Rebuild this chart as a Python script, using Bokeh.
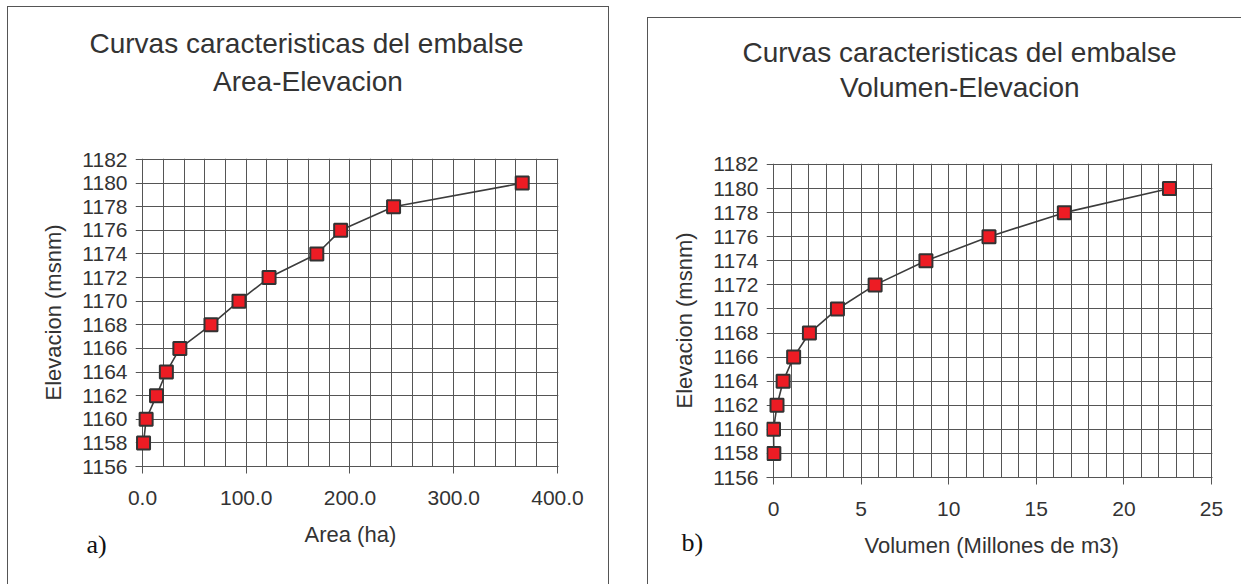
from bokeh.plotting import figure
from bokeh.models import Range1d, SingleIntervalTicker, NumeralTickFormatter, Title
from bokeh.embed import file_html
from bokeh.resources import INLINE

# ---- data ----
elevacion = [1158, 1160, 1162, 1164, 1166, 1168, 1170, 1172, 1174, 1176, 1178, 1180]
area_ha = [1.0, 3.5, 13.5, 23.0, 36.0, 66.0, 93.0, 122.0, 168.0, 191.0, 242.0, 366.0]
volumen_mm3 = [0.02, 0.0, 0.2, 0.55, 1.15, 2.05, 3.65, 5.8, 8.7, 12.3, 16.6, 22.6]

titulo = "Curvas caracteristicas del embalse"
subtitulo_a = "Area-Elevacion"
subtitulo_b = "Volumen-Elevacion"
xlabel_a = "Area (ha)"
xlabel_b = "Volumen (Millones de m3)"
ylabel = "Elevacion (msnm)"

FONT = "Liberation Sans"
TXT = "#333333"
GRID = "#555555"
BORDER = "1px solid #555555"


def ttl(text, size, offset=0, standoff=0, font=FONT, color=TXT):
    return Title(text=text, align="left", offset=offset, standoff=standoff,
                 text_font=font, text_font_size=size, text_font_style="normal",
                 text_color=color)


def make_panel(x, y, xr, yr, x_major, x_minor, fmt, fw, fh, mb, pos, styles):
    p = figure(frame_width=fw, frame_height=fh, output_backend="svg",
               toolbar_location=None, x_range=Range1d(*xr), y_range=Range1d(*yr),
               min_border_left=mb[0], min_border_right=mb[1],
               min_border_top=mb[2], min_border_bottom=mb[3])
    p.title.visible = False
    st = {"position": "absolute", "left": f"{pos[0]}px", "top": f"{pos[1]}px"}
    st.update(styles)
    p.styles = st
    p.background_fill_color = "white"
    p.border_fill_color = "white"
    p.outline_line_color = None

    p.xaxis.ticker = SingleIntervalTicker(interval=x_major, num_minor_ticks=0)
    p.yaxis.ticker = SingleIntervalTicker(interval=2, num_minor_ticks=0)
    if fmt:
        p.xaxis.formatter = NumeralTickFormatter(format=fmt)
    p.xgrid.ticker = SingleIntervalTicker(interval=x_minor, num_minor_ticks=0)
    p.ygrid.ticker = SingleIntervalTicker(interval=2, num_minor_ticks=0)
    for g in (p.xgrid, p.ygrid):
        g.grid_line_color = GRID
        g.grid_line_width = 1
        g.grid_line_alpha = 1.0

    for ax in (p.xaxis, p.yaxis):
        ax.minor_tick_line_color = None
        ax.major_label_text_font = FONT
        ax.major_label_text_font_size = "21px"
        ax.major_label_text_color = TXT
        ax.axis_label_text_font = FONT
        ax.axis_label_text_font_size = "22px"
        ax.axis_label_text_font_style = "normal"
        ax.axis_label_text_color = TXT
    p.xaxis.axis_line_color = GRID
    p.xaxis.major_tick_line_color = GRID
    p.xaxis.major_tick_in = 0
    p.xaxis.major_tick_out = 7
    p.xaxis.major_label_standoff = 17
    # y axis: the horizontal grid lines reach 7px left of zero and act as ticks
    p.yaxis.axis_line_color = None
    p.yaxis.major_tick_line_color = None
    p.yaxis.major_tick_in = 0
    p.yaxis.major_tick_out = 0
    p.yaxis.major_label_standoff = 8
    p.yaxis.axis_label_standoff = 13
    p.yaxis.axis_label = ylabel

    p.line(x, y, line_color="#3c3c3c", line_width=1.6)
    p.scatter(x, y, marker="square", size=13, fill_color="#ED1C24",
              line_color="#333333", line_width=2)
    return p


# left panel box: page x 7..607, top 6 ; canvas origin at page (8, 7)
p1 = make_panel(area_ha, elevacion, (-6.747, 400.964), (1156, 1182.085), 100, 20,
                "0.0", 423, 308, (127, 50, 151, 118), (7, 6),
                {"border-top": BORDER, "border-left": BORDER, "border-right": BORDER})
# above: spacer, subtitle, title (stacked upward from the frame)
p1.add_layout(ttl(" ", "2px", standoff=55), "above")
p1.add_layout(ttl(subtitulo_a, "28px", offset=77.5, standoff=5), "above")
p1.add_layout(ttl(titulo, "28px", offset=-46, standoff=5), "above")
# below: axis, spacer, x label, tag
p1.add_layout(ttl(" ", "2px", standoff=17), "below")
p1.add_layout(ttl(xlabel_a, "22px", offset=169, standoff=-17), "below")
p1.add_layout(ttl("a)", "26px", offset=-49, standoff=-22, font="Liberation Serif",
                  color="#111111"), "below")

# right panel box: page x 647.., top 17 ; canvas origin at page (648, 18)
p2 = make_panel(volumen_mm3, elevacion, (-0.3995, 25.057), (1156, 1182.083), 5, 1,
                None, 446, 314, (118, 29, 145, 107), (647, 17),
                {"border-top": BORDER, "border-left": BORDER})
p2.add_layout(ttl(" ", "2px", standoff=56), "above")
p2.add_layout(ttl(subtitulo_b, "28px", offset=73.5, standoff=2), "above")
p2.add_layout(ttl(titulo, "28px", offset=-24, standoff=2), "above")
p2.add_layout(ttl(" ", "2px", standoff=18), "below")
p2.add_layout(ttl("b)", "26px", offset=-85, standoff=-29, font="Liberation Serif",
                  color="#111111"), "below")
p2.add_layout(ttl(xlabel_b, "22px", offset=98, standoff=-24), "below")

open("out.html", "w").write(file_html([p1, p2], INLINE))
